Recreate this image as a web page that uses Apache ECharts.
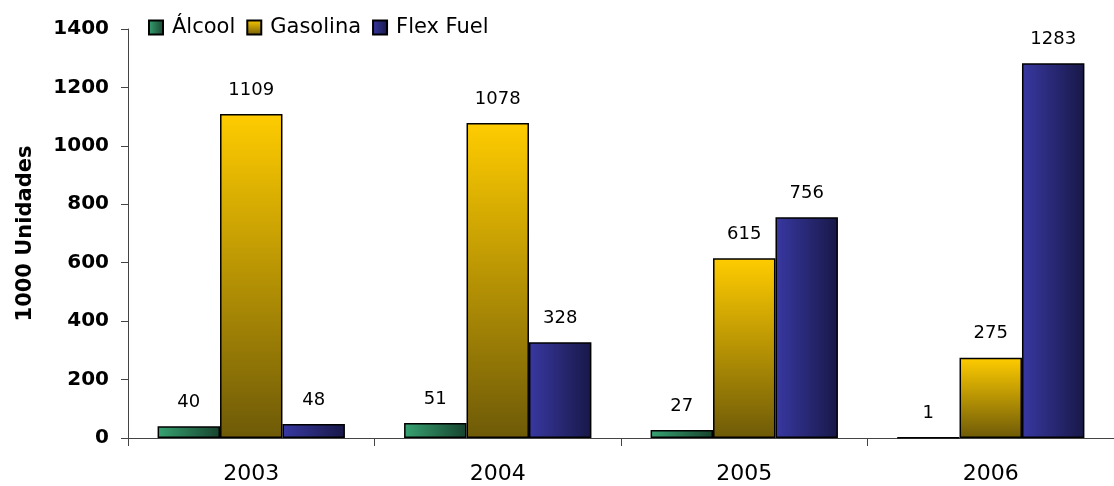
<!DOCTYPE html>
<html><head><meta charset="utf-8">
<script src="https://cdn.jsdelivr.net/npm/echarts@6/dist/echarts.min.js"></script>
<style>html,body{margin:0;padding:0;background:#fff}#c{width:1114px;height:486px}</style>
</head><body><div id="c"></div>
<script>
var categories = ['2003', '2004', '2005', '2006'];
var alcool = [40, 51, 27, 1];
var gasolina = [1109, 1078, 615, 275];
var flex = [48, 328, 756, 1283];
var yTicks = [0, 200, 400, 600, 800, 1000, 1200, 1400];
var seriesNames = ['Álcool', 'Gasolina', 'Flex Fuel'];

var FONT = 'DejaVu Sans';
function hgrad(a, b) { return new echarts.graphic.LinearGradient(0, 0, 1, 0, [{offset: 0, color: a}, {offset: 1, color: b}]); }
function vgrad(a, b) { return new echarts.graphic.LinearGradient(0, 0, 0, 1, [{offset: 0, color: a}, {offset: 1, color: b}]); }
var labelCfg = {show: true, position: 'top', distance: 15, color: '#000', fontFamily: FONT, fontSize: 18};
var legendRich = {
  a: {width: 64, fontFamily: FONT, fontSize: 21, color: '#000'},
  b: {width: 101, fontFamily: FONT, fontSize: 21, color: '#000'},
  c: {width: 96, fontFamily: FONT, fontSize: 21, color: '#000'}
};

var chart = echarts.init(document.getElementById('c'));
chart.setOption({
  animation: false,
  textStyle: {fontFamily: FONT},
  legend: {
    left: 143, top: 12, itemWidth: 14, itemHeight: 14, itemGap: 11, icon: 'rect',
    textStyle: {fontFamily: FONT, fontSize: 21, color: '#000', padding: [0, 0, 0, 4], rich: legendRich},
    formatter: function (name) {
      var k = ['a', 'b', 'c'][seriesNames.indexOf(name)];
      return '{' + k + '|' + name + '}';
    },
    data: seriesNames
  },
  grid: {left: 128, right: -5, top: 29, bottom: 48, containLabel: false},
  xAxis: {
    type: 'category', data: categories,
    axisLine: {lineStyle: {color: '#444', width: 1}},
    axisTick: {show: true, length: 8, lineStyle: {color: '#444'}},
    axisLabel: {color: '#000', fontFamily: FONT, fontSize: 22, margin: 25}
  },
  yAxis: {
    type: 'value', min: 0, max: 1400, interval: 200,
    name: '1000 Unidades', nameLocation: 'middle', nameGap: 92, nameRotate: 90,
    nameTextStyle: {fontFamily: FONT, fontSize: 21, fontWeight: 'bold', color: '#000'},
    axisLine: {show: true, lineStyle: {color: '#444', width: 1}},
    axisTick: {show: true, length: 7, lineStyle: {color: '#444'}},
    splitLine: {show: false},
    axisLabel: {color: '#000', fontFamily: FONT, fontSize: 20, fontWeight: 'bold', margin: 19,
      formatter: function (v) { return yTicks.indexOf(v) >= 0 ? String(v) : ''; }}
  },
  series: [
    {name: 'Álcool', type: 'bar', data: alcool, barGap: '0%', barCategoryGap: '24%',
      itemStyle: {color: hgrad('#37a372', '#17432e'), borderColor: '#000', borderWidth: 1.5}, label: labelCfg},
    {name: 'Gasolina', type: 'bar', data: gasolina, barGap: '0%', barCategoryGap: '24%',
      itemStyle: {color: vgrad('#ffcc00', '#6e5a08'), borderColor: '#000', borderWidth: 1.5}, label: labelCfg},
    {name: 'Flex Fuel', type: 'bar', data: flex, barGap: '0%', barCategoryGap: '24%',
      itemStyle: {color: hgrad('#3838a2', '#181848'), borderColor: '#000', borderWidth: 1.5}, label: labelCfg}
  ]
});
</script></body></html>
